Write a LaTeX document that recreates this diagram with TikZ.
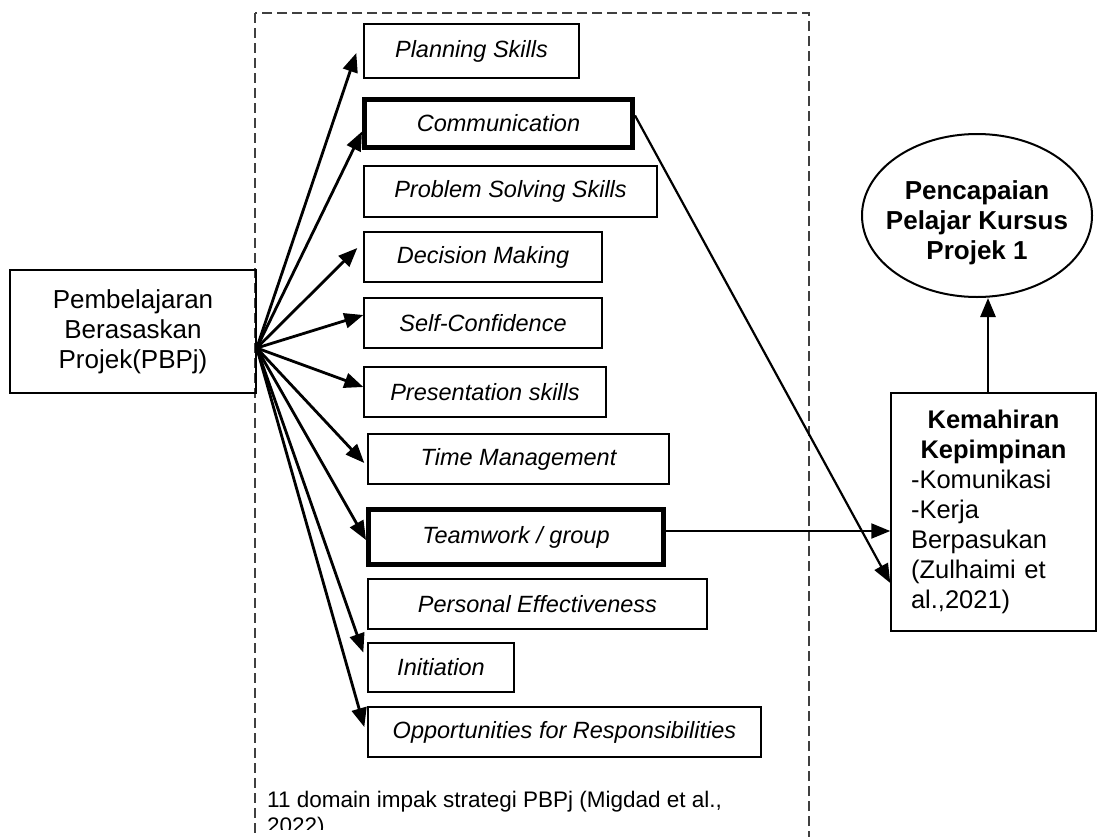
\documentclass[tikz,border=0pt]{standalone}
\usepackage{fontspec}
\setmainfont{Liberation Sans}
\usetikzlibrary{arrows.meta,shapes.geometric}

\tikzset{
  skill/.style={draw, line width=1.4pt, inner sep=0pt, minimum height=50pt,
    font=\fontsize{23.5}{28}\selectfont\itshape},
  keyskill/.style={skill, line width=5pt},
  arr/.style={-{Triangle[length=19pt,width=15pt]}, line width=2.8pt},
  link/.style={-{Triangle[length=19pt,width=15pt]}, line width=2.2pt},
}

\begin{document}
\begin{tikzpicture}[x=1pt,y=-1pt]
\useasboundingbox (0,0) rectangle (1099,836);

% frame of the 11 domains
\draw[dash pattern=on 10pt off 5pt, line width=1.3pt, black!75] (255,13) rectangle (809,870);
\begin{scope}
\clip (258,770) rectangle (806,829);
\node[anchor=north west, align=left, inner sep=0pt, font=\fontsize{22.5}{26}\selectfont]
  (note) at (267,790.5) {11 domain impak strategi PBPj (Migdad et al.,\\2022)};
\end{scope}

\node[draw, line width=1.4pt, minimum width=246pt, minimum height=123pt, align=center,
  font=\fontsize{26}{30}\selectfont] (pbpj) at (133,331.5) {Pembelajaran\\Berasaskan\\Projek(PBPj)};

\node[skill, minimum width=215pt, minimum height=54pt] (plan) at (471.5,51) {Planning Skills};
\node[keyskill, minimum width=268pt, minimum height=48pt] (comm) at (498.5,123.5) {Communication};
\node[skill, minimum width=293pt, minimum height=51pt] (prob) at (510.5,191.5) {Problem Solving Skills};
\node[skill, minimum width=238pt] (dec) at (483,257) {Decision Making};
\node[skill, minimum width=238pt] (self) at (483,323) {Self-Confidence};
\node[skill, minimum width=242pt] (pres) at (485,392) {Presentation skills};
\node[skill, minimum width=301pt] (time) at (518.5,459) {Time Management};
\node[keyskill, minimum width=295pt, minimum height=55pt] (team) at (516,537) {Teamwork / group};
\node[skill, minimum width=339pt] (pers) at (537.5,604) {Personal Effectiveness};
\node[skill, minimum width=146pt, minimum height=49pt] (init) at (441,667.5) {Initiation};
\node[skill, minimum width=393pt] (opp) at (564.5,732) {Opportunities for Responsibilities};

\node[draw, line width=1.5pt, minimum width=205pt, minimum height=238pt, text width=165pt,
  inner xsep=20pt, align=left, font=\fontsize{25.5}{30}\selectfont] (kem) at (993.5,512)
  {{\centering\bfseries Kemahiran\\Kepimpinan\par}-Komunikasi\\-Kerja\\Berpasukan\\(Zulhaimi et\\al.,2021)};

\node[ellipse, draw, line width=2pt, minimum width=230pt, minimum height=163pt, inner sep=0pt,
  font=\fontsize{26}{30}\selectfont\bfseries] (goal) at (977,215.5)
  {\makebox[0pt]{\begin{tabular}{@{}c@{}}\rule{0pt}{37pt}Pencapaian\\Pelajar Kursus\\Projek 1\end{tabular}}};

% fan of arrows
\coordinate (fan) at ([yshift=-16.5pt]pbpj.east);
\draw[arr] (fan) -- ([xshift=-7pt,yshift=-2pt]plan.west);
\draw[arr] (fan) -- ([yshift=-8pt]comm.west);
\draw[arr] (fan) -- ([xshift=-6pt,yshift=9pt]dec.west);
\draw[arr] (fan) -- ([yshift=8pt]self.west);
\draw[arr] (fan) -- ([yshift=5pt]pres.west);
\draw[arr] (fan) -- ([xshift=-3pt,yshift=-4pt]time.west);
\draw[arr] (fan) -- ([yshift=-3pt]team.west);
\draw[arr] (fan) -- ([xshift=-4pt,yshift=15pt]init.west);
\draw[arr] (fan) -- ([xshift=-3pt,yshift=5pt]opp.west);

\draw[link] ([yshift=8pt]comm.east) -- ([yshift=-71pt]kem.west);
\coordinate (tw) at ([yshift=6pt]team.east);
\draw[link] (tw) -- (tw -| kem.west);
\coordinate (up) at ([xshift=-5.5pt]kem.north);
\draw[arr] (up) -- (up |- goal.south);
\end{tikzpicture}
\end{document}
